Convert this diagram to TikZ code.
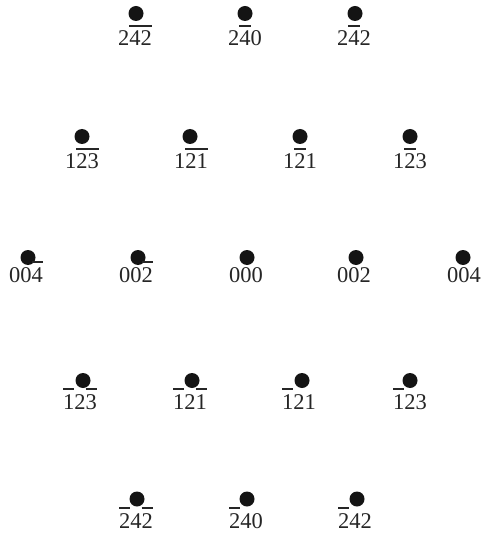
\documentclass[tikz,border=0pt]{standalone}
\usepackage{fontspec}
\setmainfont{Liberation Serif}
\newcommand\ob[1]{\vbox{\hrule height 1.7bp\kern 4.5bp\hbox{#1}}}
\newcommand\lblfont{\fontsize{22.5bp}{26bp}\selectfont}
\tikzset{
  pt/.style={circle, fill=black!92, inner sep=0pt, minimum size=15bp},
  lab/.style={anchor=base, inner sep=0pt, font=\lblfont, text=black!85}
}
\begin{document}
\begin{tikzpicture}[x=1bp,y=-1bp]
\useasboundingbox (0,0) rectangle (484,535);
% row 1
\node[pt] (d11) at (136,13.5) {}; \node[lab] (l11) at (135,46) {2\ob{42}};
\node[pt] (d12) at (245,13.5) {}; \node[lab] (l12) at (245,46) {2\ob{4}0};
\node[pt] (d13) at (355,13.5) {}; \node[lab] (l13) at (354,46) {2\ob{4}2};
% row 2
\node[pt] (d21) at (82,136.5) {};  \node[lab] (l21) at (82,169) {1\ob{23}};
\node[pt] (d22) at (190,136.5) {}; \node[lab] (l22) at (191,169) {1\ob{21}};
\node[pt] (d23) at (300,136.5) {}; \node[lab] (l23) at (300,169) {1\ob{2}1};
\node[pt] (d24) at (410,136.5) {}; \node[lab] (l24) at (410,169) {1\ob{2}3};
% row 3
\node[pt] (d31) at (28,257.5) {};  \node[lab] (l31) at (26,282) {00\ob{4}};
\node[pt] (d32) at (138,257.5) {}; \node[lab] (l32) at (136,282) {00\ob{2}};
\node[pt] (d33) at (247,257.5) {}; \node[lab] (l33) at (246,282) {000};
\node[pt] (d34) at (356,257.5) {}; \node[lab] (l34) at (354,282) {002};
\node[pt] (d35) at (463,257.5) {}; \node[lab] (l35) at (464,282) {004};
% row 4
\node[pt] (d41) at (83,380.5) {};  \node[lab] (l41) at (80,409) {\ob{1}2\ob{3}};
\node[pt] (d42) at (192,380.5) {}; \node[lab] (l42) at (190,409) {\ob{1}2\ob{1}};
\node[pt] (d43) at (302,380.5) {}; \node[lab] (l43) at (299,409) {\ob{1}21};
\node[pt] (d44) at (410,380.5) {}; \node[lab] (l44) at (410,409) {\ob{1}23};
% row 5
\node[pt] (d51) at (137,499) {}; \node[lab] (l51) at (136,528) {\ob{2}4\ob{2}};
\node[pt] (d52) at (247,499) {}; \node[lab] (l52) at (246,528) {\ob{2}40};
\node[pt] (d53) at (357,499) {}; \node[lab] (l53) at (355,528) {\ob{2}42};
\end{tikzpicture}
\end{document}
